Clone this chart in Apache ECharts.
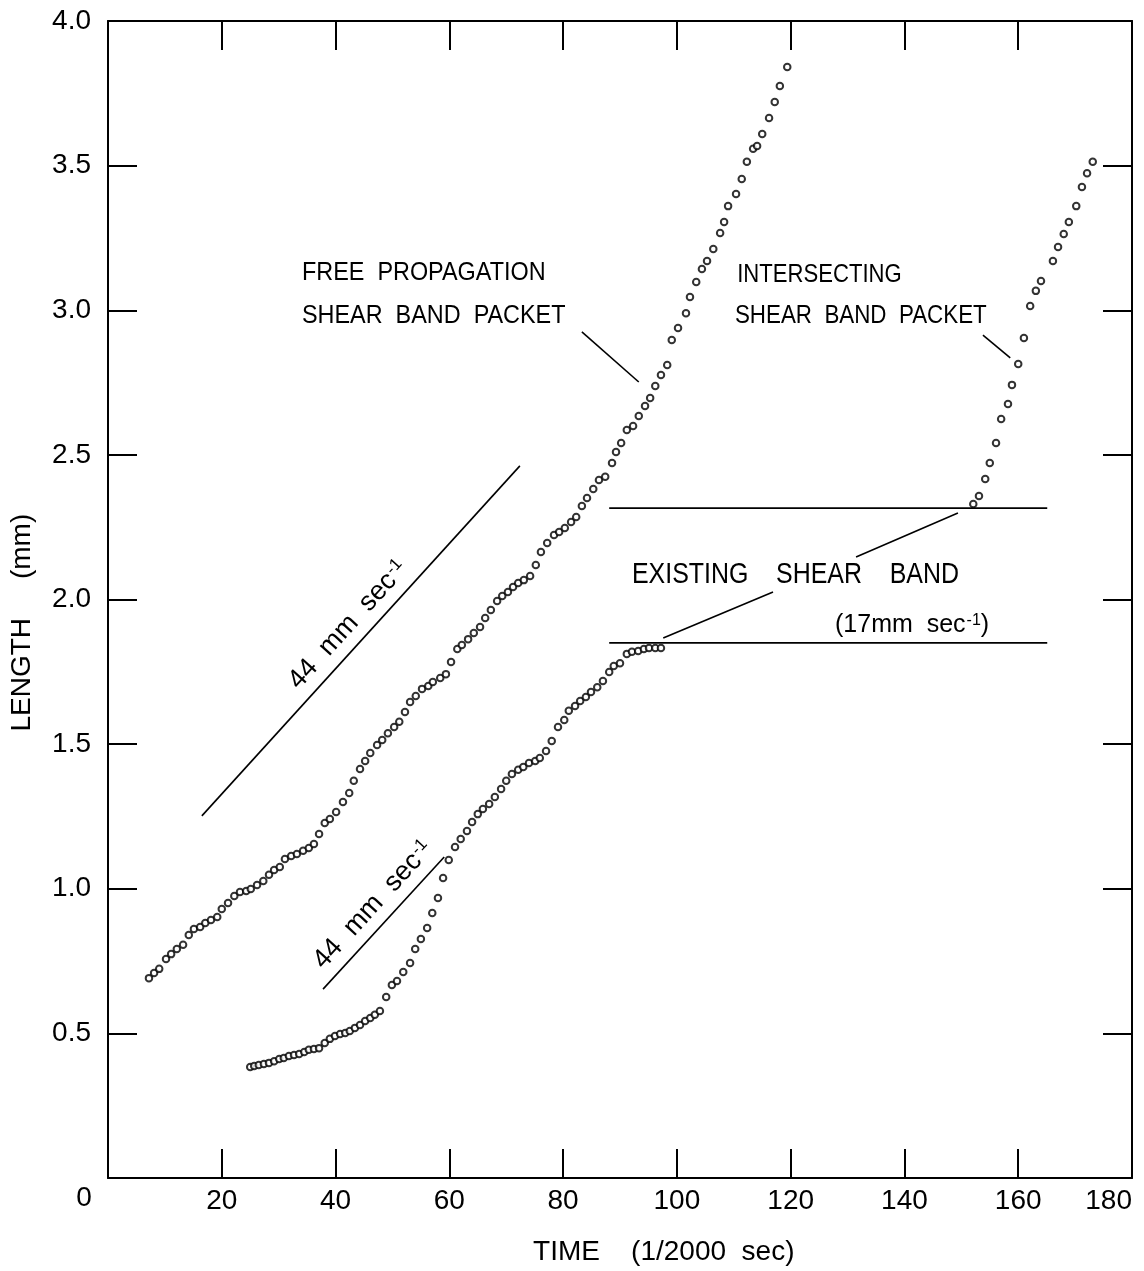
<!DOCTYPE html>
<html>
<head>
<meta charset="utf-8">
<script src="https://cdn.jsdelivr.net/npm/echarts@6/dist/echarts.min.js"></script>
<style>
  html, body { margin: 0; padding: 0; background: #fff; }
  #chart { width: 1144px; height: 1271px; }
</style>
</head>
<body>
<div id="chart"></div>
<script>
// Time in units of 1/2000 sec, length in mm.
// Free propagation shear band packet
const freeT = [7.2,8.1,9.0,10.2,11.1,12.1,13.2,14.2,15.1,16.2,
  17.1,18.1,19.2,20.0,21.1,22.2,23.2,24.3,25.1,26.2,
  27.3,28.3,29.2,30.2,31.1,32.2,33.2,34.3,35.3,36.2,
  37.1,38.1,39.0,40.1,41.3,42.4,43.2,44.3,45.2,46.1,
  47.3,48.2,49.2,50.3,51.2,52.2,53.1,54.1,55.2,56.3,
  57.1,58.4,59.4,60.3,61.4,62.2,63.3,64.3,65.4,66.3,
  67.3,68.4,69.3,70.3,71.2,72.1,73.1,74.2,75.2,76.1,
  77.2,78.4,79.3,80.3,81.4,82.3,83.3,84.2,85.3,86.3,
  87.4,88.6,89.3,90.2,91.2,92.3,93.3,94.4,95.3,96.2,
  97.2,98.3,99.1,100.2,101.6,102.3,103.4,104.4,105.3,106.4,
  107.6,108.3,109.0,110.4,111.4,112.3,113.4,114.1,115.0,116.2,
  117.2,118.1,119.4];
const freeL = [0.691,0.709,0.723,0.757,0.774,0.792,0.806,0.840,0.861,0.868,
  0.882,0.892,0.902,0.930,0.951,0.975,0.989,0.992,0.999,1.013,
  1.027,1.048,1.065,1.075,1.103,1.113,1.120,1.131,1.141,1.155,
  1.189,1.227,1.241,1.265,1.300,1.331,1.373,1.414,1.442,1.469,
  1.497,1.514,1.538,1.559,1.577,1.611,1.646,1.666,1.691,1.701,
  1.715,1.729,1.742,1.784,1.829,1.843,1.863,1.884,1.905,1.936,
  1.964,1.995,2.012,2.026,2.043,2.057,2.067,2.081,2.119,2.164,
  2.195,2.223,2.233,2.247,2.268,2.285,2.323,2.351,2.382,2.413,
  2.424,2.472,2.510,2.541,2.586,2.600,2.634,2.669,2.697,2.738,
  2.776,2.811,2.897,2.939,2.990,3.046,3.098,3.143,3.170,3.212,
  3.267,3.305,3.360,3.402,3.454,3.513,3.558,3.568,3.609,3.665,
  3.720,3.775,3.841];

// Existing shear band (lower packet)
const lowT = [25.0,25.7,26.5,27.4,28.3,29.2,30.1,30.9,31.8,32.7,
  33.6,34.5,35.3,36.2,37.1,38.1,39.0,39.9,40.8,41.7,
  42.5,43.4,44.3,45.2,46.1,46.9,47.8,48.9,49.9,50.8,
  51.9,53.1,54.0,55.0,56.1,57.0,58.0,58.9,59.9,61.0,
  62.0,63.1,64.0,65.0,65.9,67.0,68.0,69.1,70.0,71.0,
  72.1,73.0,74.0,75.1,75.9,77.0,78.0,79.1,80.2,81.0,
  82.1,83.0,84.0,84.9,86.0,87.0,88.1,88.9,90.0,91.2,
  92.1,93.2,94.2,95.1,96.2,97.2];
const lowL = [0.384,0.387,0.391,0.394,0.398,0.404,0.411,0.415,0.422,0.425,
  0.429,0.436,0.443,0.446,0.449,0.467,0.481,0.491,0.498,0.501,
  0.508,0.519,0.529,0.543,0.553,0.564,0.577,0.626,0.667,0.681,
  0.712,0.743,0.792,0.826,0.864,0.916,0.968,1.037,1.099,1.144,
  1.172,1.200,1.231,1.258,1.276,1.293,1.317,1.345,1.373,1.397,
  1.411,1.421,1.435,1.442,1.452,1.476,1.511,1.559,1.583,1.615,
  1.632,1.649,1.663,1.680,1.697,1.718,1.749,1.770,1.780,1.812,
  1.819,1.822,1.829,1.832,1.832,1.832];

// Intersecting shear band packet
const crossT = [152.1,153.1,154.2,155.0,156.1,157.0,158.2,158.9,160.0,161.0,
  162.1,163.1,164.0,166.1,167.0,168.0,168.9,170.2,171.2,172.1,173.1];
const crossL = [2.330,2.358,2.417,2.472,2.541,2.624,2.676,2.742,2.814,2.904,
  3.015,3.067,3.101,3.170,3.219,3.264,3.305,3.360,3.426,3.474,3.513];

// Existing band levels (mm) and their time span
const bandSpanT = [88.1, 165.1];
const bandUpperL = 2.316;
const bandLowerL = 1.850;

// 44 mm/sec reference slopes: [t, L] end points
const slopeUpper = [[16.5, 1.252], [72.4, 2.462]];
const slopeLower = [[37.8, 0.653], [59.1, 1.110]];

// Leader lines from labels to curves
const leaderFree = [[83.3, 2.925], [93.3, 2.752]];
const leaderCross = [[153.8, 2.914], [158.6, 2.835]];
const leaderBand1 = [[97.6, 1.867], [116.9, 2.026]];
const leaderBand2 = [[131.5, 2.147], [149.4, 2.299]];

// Axis ranges
const xRange = [0, 180], xStep = 20;
const yRange = [0, 4], yStep = 0.5;

const FONT = '"Liberation Sans", Arial, sans-serif';
const zip = (a, b) => a.map((v, i) => [v, b[i]]);

const chart = echarts.init(document.getElementById('chart'));

const markerStyle = { color: '#fff', borderColor: '#000', borderWidth: 2 };
const guide = (name, data) => ({
  name, type: 'line', data, symbol: 'none', silent: true,
  lineStyle: { color: '#000', width: 1.6 }, z: 1
});

const axisCommon = {
  type: 'value',
  axisLine: { show: true, onZero: false, lineStyle: { color: '#000', width: 2 } },
  axisTick: { show: true, inside: true, length: 29, lineStyle: { color: '#000', width: 2 } },
  splitLine: { show: false }
};

chart.setOption({
  animation: false,
  backgroundColor: '#fff',
  grid: { left: 108, right: 12, top: 21, bottom: 93, containLabel: false, outerBoundsMode: 'none' },
  xAxis: [
    Object.assign({}, axisCommon, {
      position: 'bottom', min: xRange[0], max: xRange[1], interval: xStep,
      axisLabel: { color: '#000', fontSize: 28, fontFamily: FONT, margin: 9,
        alignMaxLabel: 'right',
        formatter: v => (v === 0 ? '' : String(v)) }
    }),
    Object.assign({}, axisCommon, {
      position: 'top', min: xRange[0], max: xRange[1], interval: xStep,
      axisLabel: { show: false }
    })
  ],
  yAxis: [
    Object.assign({}, axisCommon, {
      position: 'left', min: yRange[0], max: yRange[1], interval: yStep,
      axisLabel: { color: '#000', fontSize: 28, fontFamily: FONT, margin: 17,
        formatter: v => (v === 0 ? '' : v.toFixed(1)) }
    }),
    Object.assign({}, axisCommon, {
      position: 'right', min: yRange[0], max: yRange[1], interval: yStep,
      axisLabel: { show: false }
    })
  ],
  series: [
    guide('Existing band upper', bandSpanT.map(t => [t, bandUpperL])),
    guide('Existing band lower', bandSpanT.map(t => [t, bandLowerL])),
    guide('44 mm/sec upper', slopeUpper),
    guide('44 mm/sec lower', slopeLower),
    guide('Leader free', leaderFree),
    guide('Leader intersecting', leaderCross),
    guide('Leader band 1', leaderBand1),
    guide('Leader band 2', leaderBand2),
    { name: 'Free propagation shear band packet', type: 'scatter', data: zip(freeT, freeL),
      symbol: 'circle', symbolSize: 6.5, itemStyle: markerStyle, z: 3 },
    { name: 'Existing shear band', type: 'scatter', data: zip(lowT, lowL),
      symbol: 'circle', symbolSize: 6.5, itemStyle: markerStyle, z: 3 },
    { name: 'Intersecting shear band packet', type: 'scatter', data: zip(crossT, crossL),
      symbol: 'circle', symbolSize: 6.5, itemStyle: markerStyle, z: 3 }
  ]
});

// Annotations placed in data coordinates
const px = p => chart.convertToPixel({ xAxisIndex: 0, yAxisIndex: 0 }, p);
const slopeAngle = (seg) => {
  const a = px(seg[0]), b = px(seg[1]);
  return Math.atan2(a[1] - b[1], b[0] - a[0]);
};

function label(pos, text, opts) {
  const p = px(pos);
  opts = opts || {};
  return {
    type: 'text', x: p[0] + (opts.dx || 0), y: p[1] + (opts.dy || 0),
    rotation: opts.rotation || 0, scaleX: opts.scaleX || 1, z: 10,
    style: Object.assign({
      text, fill: '#000', font: (opts.size || 25) + 'px ' + FONT,
      textAlign: opts.align || 'left', textVerticalAlign: 'middle',
      align: opts.align || 'left', verticalAlign: 'middle'
    }, opts.rich ? { rich: opts.rich } : {})
  };
}

const supRich = (size) => ({
  m: { fontSize: size, fontFamily: FONT, color: '#000' },
  s: { fontSize: Math.round(size * 0.62), fontFamily: FONT, color: '#000', verticalAlign: 'top', padding: [0, 0, 0, 1] }
});

const origin = px([0, 0]);
const titleX = px([97.7, 0]);
const titleY = px([0, 1.92]);

chart.setOption({
  graphic: [
    label([34.1, 3.129], 'FREE  PROPAGATION', { size: 26, scaleX: 0.9 }),
    label([34.1, 2.980], 'SHEAR  BAND  PACKET', { size: 26, scaleX: 0.9 }),
    label([110.6, 3.122], 'INTERSECTING', { size: 26, scaleX: 0.85 }),
    label([110.2, 2.980], 'SHEAR  BAND  PACKET', { size: 26, scaleX: 0.86 }),
    label([92.1, 2.085], 'EXISTING    SHEAR    BAND', { size: 29, scaleX: 0.86 }),
    label([127.8, 1.912], '{m|(17mm  sec}{s|-1}{m|)}', { size: 25, rich: supRich(25) }),
    label([42.2, 1.912], '{m|44  mm  sec}{s|-1}', { size: 27, align: 'center', rotation: slopeAngle(slopeUpper), rich: supRich(27) }),
    label([46.6, 0.944], '{m|44  mm  sec}{s|-1}', { size: 27, align: 'center', rotation: slopeAngle(slopeLower), rich: supRich(27) }),
    // origin label
    { type: 'text', x: origin[0] - 24, y: origin[1] + 20, z: 10,
      style: { text: '0', fill: '#000', font: '28px ' + FONT, textAlign: 'center', align: 'center', textVerticalAlign: 'middle', verticalAlign: 'middle' } },
    // axis titles
    { type: 'text', x: titleX[0], y: origin[1] + 74, z: 10,
      style: { text: 'TIME    (1/2000  sec)', fill: '#000', font: '28px ' + FONT, textAlign: 'center', align: 'center', textVerticalAlign: 'middle', verticalAlign: 'middle' } },
    { type: 'text', x: origin[0] - 86, y: titleY[1], rotation: Math.PI / 2, z: 10,
      style: { text: 'LENGTH     (mm)', fill: '#000', font: '28px ' + FONT, textAlign: 'center', align: 'center', textVerticalAlign: 'middle', verticalAlign: 'middle' } }
  ]
});
</script>
</body>
</html>
